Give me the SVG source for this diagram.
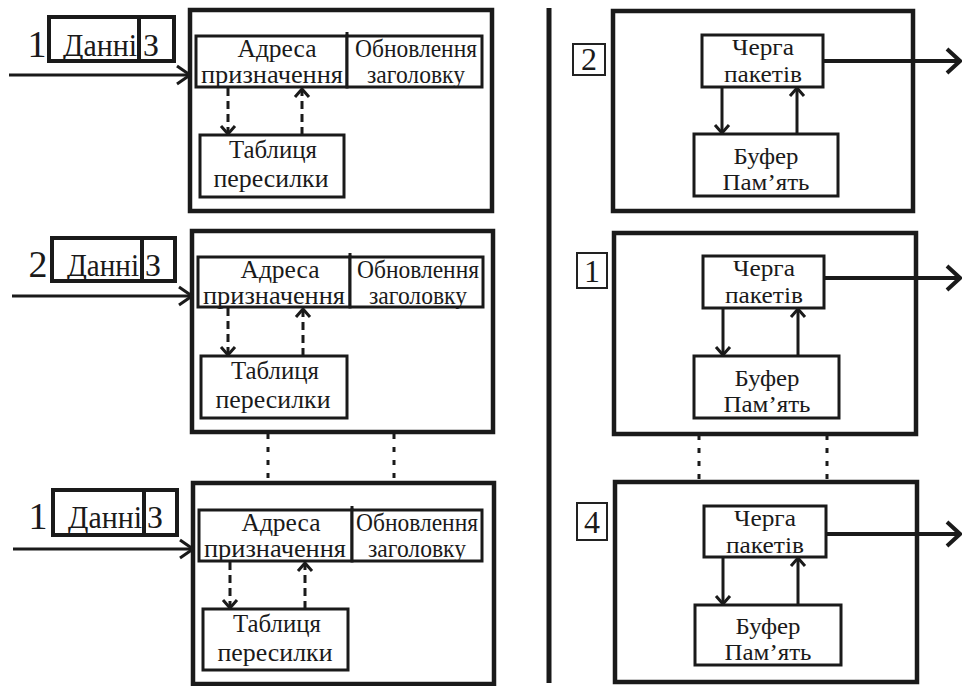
<svg xmlns="http://www.w3.org/2000/svg" width="963" height="686" viewBox="0 0 963 686" font-family="'Liberation Serif', 'DejaVu Serif', 'Times New Roman', serif">
  <defs>
    <style>
      .outer{fill:none;stroke:#1a1a1a;stroke-width:4.5}
      .box{fill:#fff;stroke:#1a1a1a;stroke-width:3}
      .pkt{fill:#fff;stroke:#1a1a1a;stroke-width:4}
      .tag{fill:#fff;stroke:#222;stroke-width:2}
      .wire{fill:none;stroke:#1a1a1a;stroke-width:3}
      .out{fill:none;stroke:#1a1a1a;stroke-width:4}
      .dash{stroke-dasharray:8 5}
      .dot{fill:none;stroke:#1a1a1a;stroke-width:3;stroke-dasharray:5 8}
      text{font-family:'Liberation Serif','DejaVu Serif','Times New Roman',serif;fill:#1a1a1a;text-anchor:middle}
      .t24{font-size:24px}
      .t25{font-size:25px}
      .t26{font-size:26px}
      .t32{font-size:32px}
      .t38{font-size:38px}
    </style>
    <marker id="head-in" markerUnits="userSpaceOnUse" viewBox="-16 -12 18 24" refX="0" refY="0" markerWidth="18" markerHeight="24" orient="auto">
      <path d="M-13,-9 L0,0 L-13,9" fill="none" stroke="#1a1a1a" stroke-width="3"/>
    </marker>
    <marker id="head-small" markerUnits="userSpaceOnUse" viewBox="-11 -10 13 20" refX="0" refY="0" markerWidth="13" markerHeight="20" orient="auto">
      <path d="M-8,-7 L0,0 L-8,7" fill="none" stroke="#1a1a1a" stroke-width="3"/>
    </marker>
    <marker id="head-out" markerUnits="userSpaceOnUse" viewBox="-16 -15 18 30" refX="0" refY="0" markerWidth="18" markerHeight="30" orient="auto">
      <path d="M-13,-12 L0,0 L-13,12" fill="none" stroke="#1a1a1a" stroke-width="4"/>
    </marker>
  </defs>

  <rect width="963" height="686" fill="#fff"/>

  <!-- centre divider -->
  <line x1="549" y1="8" x2="549" y2="683" stroke="#1a1a1a" stroke-width="5"/>

  <!-- ===== input side ===== -->
  <g id="in-1">
    <rect class="outer" x="190" y="10" width="302" height="201"/>
    <g id="in-1-packet">
      <text class="t38" x="37" y="57">1</text>
      <rect class="pkt" x="49" y="17" width="125" height="44"/>
      <line x1="139" y1="17" x2="139" y2="61" stroke="#1a1a1a" stroke-width="4"/>
      <text class="t32" x="100" y="56" textLength="74" lengthAdjust="spacingAndGlyphs">Данні</text>
      <text class="t32" x="151" y="56">З</text>
    </g>
    <g id="in-1-dest">
      <rect class="box" x="196" y="36" width="151" height="51"/>
      <text class="t25" x="277" y="57" textLength="79" lengthAdjust="spacingAndGlyphs">Адреса</text>
      <text class="t25" x="272" y="83" textLength="142" lengthAdjust="spacingAndGlyphs">призначення</text>
    </g>
    <g id="in-1-hdr">
      <rect class="box" x="347" y="36" width="135" height="51"/>
      <line x1="347" y1="32" x2="347" y2="36" stroke="#1a1a1a" stroke-width="3"/>
      <text class="t25" x="416" y="57" textLength="122" lengthAdjust="spacingAndGlyphs">Обновлення</text>
      <text class="t25" x="416" y="83" textLength="98" lengthAdjust="spacingAndGlyphs">заголовку</text>
    </g>
    <g id="in-1-table">
      <rect class="box" x="200" y="135" width="144" height="62"/>
      <text class="t25" x="273" y="158" textLength="88" lengthAdjust="spacingAndGlyphs">Таблиця</text>
      <text class="t25" x="271" y="187" textLength="115" lengthAdjust="spacingAndGlyphs">пересилки</text>
    </g>
  </g>

  <g id="in-2">
    <rect class="outer" x="192" y="231" width="301" height="201"/>
    <g id="in-2-packet">
      <text class="t38" x="38" y="277">2</text>
      <rect class="pkt" x="52" y="238" width="123" height="43"/>
      <line x1="142" y1="238" x2="142" y2="281" stroke="#1a1a1a" stroke-width="4"/>
      <text class="t32" x="103" y="276" textLength="72" lengthAdjust="spacingAndGlyphs">Данні</text>
      <text class="t32" x="153" y="276">З</text>
    </g>
    <g id="in-2-dest">
      <rect class="box" x="198" y="257" width="152" height="50"/>
      <text class="t25" x="280" y="278" textLength="79" lengthAdjust="spacingAndGlyphs">Адреса</text>
      <text class="t25" x="274" y="304" textLength="142" lengthAdjust="spacingAndGlyphs">призначення</text>
    </g>
    <g id="in-2-hdr">
      <rect class="box" x="350" y="257" width="133" height="50"/>
      <line x1="350" y1="253" x2="350" y2="257" stroke="#1a1a1a" stroke-width="3"/>
      <text class="t25" x="418" y="278" textLength="122" lengthAdjust="spacingAndGlyphs">Обновлення</text>
      <text class="t25" x="418" y="304" textLength="98" lengthAdjust="spacingAndGlyphs">заголовку</text>
    </g>
    <g id="in-2-table">
      <rect class="box" x="201" y="356" width="146" height="62"/>
      <text class="t25" x="275" y="379" textLength="88" lengthAdjust="spacingAndGlyphs">Таблиця</text>
      <text class="t25" x="273" y="408" textLength="115" lengthAdjust="spacingAndGlyphs">пересилки</text>
    </g>
  </g>

  <g id="in-3">
    <rect class="outer" x="193" y="483" width="301" height="201"/>
    <g id="in-3-packet">
      <text class="t38" x="38" y="529">1</text>
      <rect class="pkt" x="53" y="490" width="124" height="45"/>
      <line x1="144" y1="490" x2="144" y2="535" stroke="#1a1a1a" stroke-width="4"/>
      <text class="t32" x="105" y="528" textLength="74" lengthAdjust="spacingAndGlyphs">Данні</text>
      <text class="t32" x="155" y="528">З</text>
    </g>
    <g id="in-3-dest">
      <rect class="box" x="199" y="510" width="153" height="51"/>
      <text class="t25" x="281" y="531" textLength="79" lengthAdjust="spacingAndGlyphs">Адреса</text>
      <text class="t25" x="275" y="557" textLength="142" lengthAdjust="spacingAndGlyphs">призначення</text>
    </g>
    <g id="in-3-hdr">
      <rect class="box" x="352" y="510" width="130" height="51"/>
      <line x1="352" y1="506" x2="352" y2="510" stroke="#1a1a1a" stroke-width="3"/>
      <text class="t25" x="417" y="531" textLength="122" lengthAdjust="spacingAndGlyphs">Обновлення</text>
      <text class="t25" x="417" y="557" textLength="98" lengthAdjust="spacingAndGlyphs">заголовку</text>
    </g>
    <g id="in-3-table">
      <rect class="box" x="203" y="609" width="145" height="61"/>
      <text class="t25" x="277" y="632" textLength="88" lengthAdjust="spacingAndGlyphs">Таблиця</text>
      <text class="t25" x="275" y="661" textLength="115" lengthAdjust="spacingAndGlyphs">пересилки</text>
    </g>
  </g>

  <!-- ===== output side ===== -->
  <g id="out-1">
    <rect class="outer" x="613" y="11" width="300" height="200"/>
    <g id="out-1-tag">
      <rect class="tag" x="573" y="44" width="32" height="31"/>
      <text class="t32" x="589" y="70">2</text>
    </g>
    <g id="out-1-queue">
      <rect class="box" x="702" y="35" width="121" height="52"/>
      <text class="t24" x="763" y="55" textLength="62" lengthAdjust="spacingAndGlyphs">Черга</text>
      <text class="t24" x="763" y="82" textLength="78" lengthAdjust="spacingAndGlyphs">пакетів</text>
    </g>
    <g id="out-1-buffer">
      <rect class="box" x="694" y="134" width="144" height="62"/>
      <text class="t24" x="766" y="164" textLength="65" lengthAdjust="spacingAndGlyphs">Буфер</text>
      <text class="t24" x="766" y="190" textLength="87" lengthAdjust="spacingAndGlyphs">Пам’ять</text>
    </g>
  </g>

  <g id="out-2">
    <rect class="outer" x="614" y="233" width="302" height="201"/>
    <g id="out-2-tag">
      <rect class="tag" x="577" y="253" width="30" height="35"/>
      <text class="t32" x="592" y="282">1</text>
    </g>
    <g id="out-2-queue">
      <rect class="box" x="703" y="256" width="121" height="52"/>
      <text class="t24" x="764" y="276" textLength="62" lengthAdjust="spacingAndGlyphs">Черга</text>
      <text class="t24" x="764" y="303" textLength="78" lengthAdjust="spacingAndGlyphs">пакетів</text>
    </g>
    <g id="out-2-buffer">
      <rect class="box" x="694" y="356" width="145" height="62"/>
      <text class="t24" x="767" y="386" textLength="65" lengthAdjust="spacingAndGlyphs">Буфер</text>
      <text class="t24" x="767" y="412" textLength="87" lengthAdjust="spacingAndGlyphs">Пам’ять</text>
    </g>
  </g>

  <g id="out-3">
    <rect class="outer" x="615" y="482" width="302" height="200"/>
    <g id="out-3-tag">
      <rect class="tag" x="577" y="503" width="30" height="37"/>
      <text class="t32" x="592" y="533">4</text>
    </g>
    <g id="out-3-queue">
      <rect class="box" x="704" y="506" width="122" height="51"/>
      <text class="t24" x="765" y="526" textLength="62" lengthAdjust="spacingAndGlyphs">Черга</text>
      <text class="t24" x="765" y="553" textLength="78" lengthAdjust="spacingAndGlyphs">пакетів</text>
    </g>
    <g id="out-3-buffer">
      <rect class="box" x="695" y="605" width="146" height="60"/>
      <text class="t24" x="768" y="634" textLength="65" lengthAdjust="spacingAndGlyphs">Буфер</text>
      <text class="t24" x="768" y="660" textLength="87" lengthAdjust="spacingAndGlyphs">Пам’ять</text>
    </g>
  </g>

  <!-- ===== connectors ===== -->
  <g id="connectors">
    <!-- incoming packets -->
    <line class="wire" x1="9" y1="75" x2="190" y2="75" marker-end="url(#head-in)"/>
    <line class="wire" x1="12" y1="296" x2="192" y2="296" marker-end="url(#head-in)"/>
    <line class="wire" x1="13" y1="549" x2="193" y2="549" marker-end="url(#head-in)"/>

    <!-- lookup: destination address to forwarding table and back -->
    <line class="wire dash" x1="228" y1="88" x2="228" y2="134" marker-end="url(#head-small)"/>
    <line class="wire dash" x1="302" y1="135" x2="302" y2="89" marker-end="url(#head-small)"/>
    <line class="wire dash" x1="228" y1="308" x2="228" y2="355" marker-end="url(#head-small)"/>
    <line class="wire dash" x1="303" y1="356" x2="303" y2="309" marker-end="url(#head-small)"/>
    <line class="wire dash" x1="230" y1="562" x2="230" y2="608" marker-end="url(#head-small)"/>
    <line class="wire dash" x1="305" y1="609" x2="305" y2="563" marker-end="url(#head-small)"/>

    <!-- queue to buffer and back -->
    <line class="wire" x1="722" y1="87" x2="722" y2="133" marker-end="url(#head-small)"/>
    <line class="wire" x1="797" y1="134" x2="797" y2="88" marker-end="url(#head-small)"/>
    <line class="wire" x1="723" y1="308" x2="723" y2="355" marker-end="url(#head-small)"/>
    <line class="wire" x1="798" y1="356" x2="798" y2="309" marker-end="url(#head-small)"/>
    <line class="wire" x1="723" y1="557" x2="723" y2="604" marker-end="url(#head-small)"/>
    <line class="wire" x1="798" y1="605" x2="798" y2="558" marker-end="url(#head-small)"/>

    <!-- outgoing packets -->
    <line class="out" x1="823" y1="61" x2="960" y2="61" marker-end="url(#head-out)"/>
    <line class="out" x1="824" y1="278" x2="960" y2="278" marker-end="url(#head-out)"/>
    <line class="out" x1="826" y1="534" x2="960" y2="534" marker-end="url(#head-out)"/>

    <!-- continuation between ports -->
    <line class="dot" x1="268" y1="434" x2="268" y2="482"/>
    <line class="dot" x1="394" y1="434" x2="394" y2="482"/>
    <line class="dot" x1="699" y1="435" x2="699" y2="481"/>
    <line class="dot" x1="827" y1="435" x2="827" y2="481"/>
  </g>
</svg>
